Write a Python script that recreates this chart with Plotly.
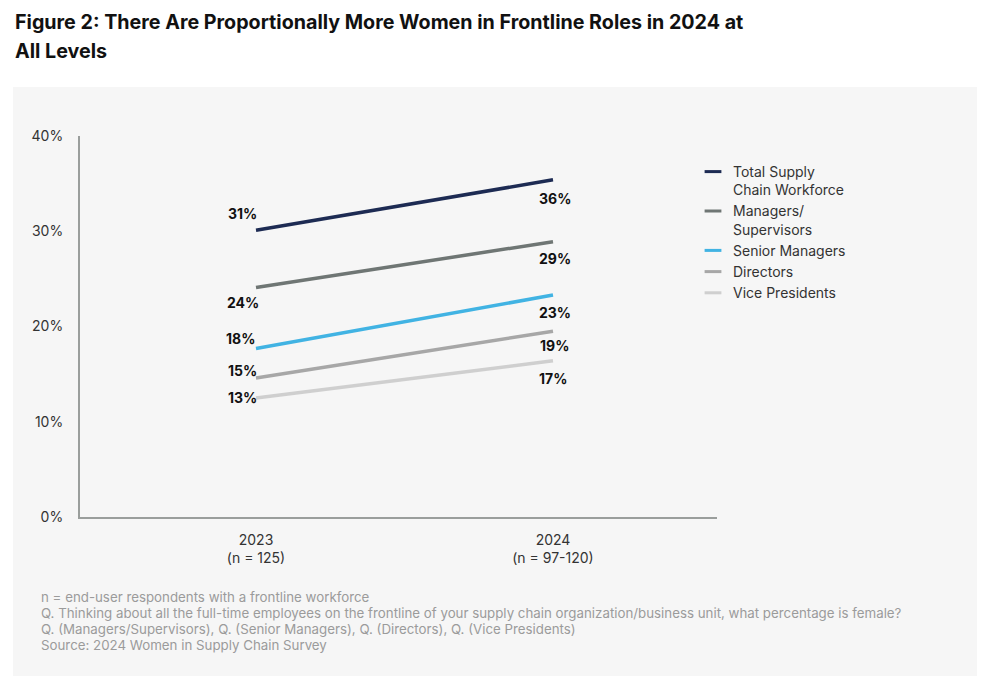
import plotly.graph_objects as go

# ---------------- data ----------------
years = ["2023", "2024"]
year_ticks = ["2023<br>(n = 125)", "2024<br>(n = 97-120)"]
series_names = [
    "Total Supply<br>Chain Workforce",
    "Managers/<br>Supervisors",
    "Senior Managers",
    "Directors",
    "Vice Presidents",
]
total_workforce = [30.1, 35.4]
managers_supervisors = [24.1, 28.9]
senior_managers = [17.7, 23.3]
directors = [14.6, 19.5]
vice_presidents = [12.5, 16.4]

total_labels = ["31%", "36%"]
managers_labels = ["24%", "29%"]
senior_labels = ["18%", "23%"]
directors_labels = ["15%", "19%"]
vp_labels = ["13%", "17%"]

y_ticks = [0, 10, 20, 30, 40]
y_tick_labels = ["0%", "10%", "20%", "30%", "40%"]

title_lines = [
    "Figure 2: There Are Proportionally More Women in Frontline Roles in 2024 at",
    "All Levels",
]
footnotes = [
    "n = end-user respondents with a frontline workforce",
    "Q. Thinking about all the full-time employees on the frontline of your supply chain organization/business unit, what percentage is female?",
    "Q. (Managers/Supervisors), Q. (Senior Managers), Q. (Directors), Q. (Vice Presidents)",
    "Source: 2024 Women in Supply Chain Survey",
]

# ---------------- style ----------------
colors = ["#1d2b53", "#6f7674", "#41b3e3", "#a7a7a7", "#cfcfcf"]
all_values = [total_workforce, managers_supervisors, senior_managers, directors, vice_presidents]
all_labels = [total_labels, managers_labels, senior_labels, directors_labels, vp_labels]
# pixel offsets (dx, dy_up) for labels at 2023 and 2024
label_offsets = [
    [(-14, 17), (2, -19)],
    [(-13, -15), (2, -17)],
    [(-16, 10), (2, -17)],
    [(-14, 7), (1, -14)],
    [(-14, 0), (0, -18)],
]

W, H = 1000, 694
L, R, T, B = 80, 283, 136, 177
PW, PH = W - L - R, H - T - B


def px(xp):
    return (xp - L) / PW


def py(yp):
    return (H - B - yp) / PH


FONT = "Inter, Roboto, sans-serif"
panel = "#f6f6f6"

fig = go.Figure()
xnum = list(range(len(years)))

for name, vals, col in zip(series_names, all_values, colors):
    fig.add_trace(go.Scatter(
        x=xnum, y=vals, mode="lines", name=name,
        line=dict(color=col, width=3.5),
        showlegend=False, hoverinfo="skip",
    ))
# legend entries (short dash symbols)
for name, col in zip(series_names, colors):
    fig.add_trace(go.Scatter(
        x=[None], y=[None], mode="markers", name=name,
        marker=dict(symbol="line-ew", size=12, color=col,
                    line=dict(color=col, width=3)),
        showlegend=True,
    ))

annotations = []
for vals, labs, offs in zip(all_values, all_labels, label_offsets):
    for i, (v, lab) in enumerate(zip(vals, labs)):
        dx, dy = offs[i]
        annotations.append(dict(
            x=i, y=v, xref="x", yref="y", text=lab, showarrow=False,
            xshift=dx, yshift=dy, xanchor="center", yanchor="middle",
            font=dict(family=FONT, size=14, color="#111111", weight="bold"),
        ))

title_y = [22, 51]
for t, yy in zip(title_lines, title_y):
    annotations.append(dict(
        x=px(13), y=py(yy), xref="paper", yref="paper", text=t,
        showarrow=False, xanchor="left", yanchor="middle",
        font=dict(family=FONT, size=19.7, color="#111111", weight="bold"),
    ))

foot_y = [597, 613, 629, 645]
for t, yy in zip(footnotes, foot_y):
    annotations.append(dict(
        x=px(39), y=py(yy), xref="paper", yref="paper", text=t,
        showarrow=False, xanchor="left", yanchor="middle",
        font=dict(family=FONT, size=13.3, color="#9b9b9b"),
    ))

fig.update_layout(
    width=W, height=H,
    margin=dict(l=L, r=R, t=T, b=B),
    paper_bgcolor="white",
    plot_bgcolor=panel,
    font=dict(family=FONT, size=14, color="#333333"),
    showlegend=True,
    legend=dict(
        x=px(693), y=py(156), xanchor="left", yanchor="top",
        bgcolor="rgba(0,0,0,0)", valign="top",
        font=dict(family=FONT, size=14, color="#333333"),
        itemwidth=30, tracegroupgap=0,
    ),
    shapes=[dict(
        type="rect", xref="paper", yref="paper",
        x0=px(13), x1=px(977), y0=py(676), y1=py(87),
        fillcolor=panel, line=dict(width=0), layer="below",
    )],
    annotations=annotations,
)

fig.update_xaxes(
    range=[(L - 256) / 297, (L + PW - 256) / 297],
    tickvals=xnum, ticktext=year_ticks,
    showgrid=False, zeroline=False,
    showline=True, linecolor="#9a9e9c", linewidth=2,
    ticks="", ticklabelstandoff=9,
    tickfont=dict(family=FONT, size=14, color="#333333"),
)
fig.update_yaxes(
    range=[0, 40], tickvals=y_ticks, ticktext=y_tick_labels,
    showgrid=False, zeroline=False,
    showline=True, linecolor="#9a9e9c", linewidth=2,
    ticks="", ticklabelstandoff=12,
    tickfont=dict(family=FONT, size=14, color="#333333"),
)

fig.write_html("out.html")
